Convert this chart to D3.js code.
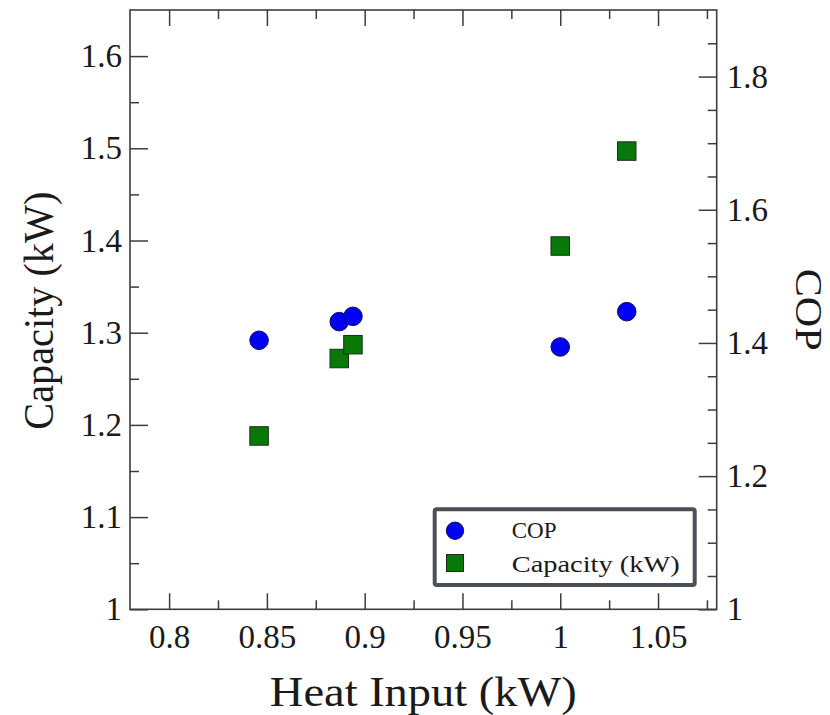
<!DOCTYPE html>
<html>
<head>
<meta charset="utf-8">
<script src="https://cdn.jsdelivr.net/npm/d3@7"></script>
<style>
  html, body { margin: 0; padding: 0; background: #fff; }
  svg { display: block; }
  text { font-family: "Liberation Serif", "Times New Roman", serif; fill: #1a1a1a; }
</style>
</head>
<body>
<svg id="chart" width="830" height="715"></svg>
<script>
// ---- data ----
const heatInput = [0.846, 0.887, 0.894, 1.000, 1.034];   // kW (x)
const capacity  = [1.188, 1.272, 1.287, 1.394, 1.497];   // kW (left axis)
const cop       = [1.404, 1.432, 1.440, 1.394, 1.447];   // COP (right axis)

const xTicks = [0.8, 0.85, 0.9, 0.95, 1, 1.05];
const xMinorTicks = [0.825, 0.875, 0.925, 0.975, 1.025, 1.075];
const capTicks = [1, 1.1, 1.2, 1.3, 1.4, 1.5, 1.6];
const capMinorTicks = [1.05, 1.15, 1.25, 1.35, 1.45, 1.55];
const copTicks = [1, 1.2, 1.4, 1.6, 1.8];
const copMinorTicks = [1.05, 1.1, 1.15, 1.25, 1.3, 1.35, 1.45, 1.5, 1.55, 1.65, 1.7, 1.75, 1.85];

const legendLabels = ["COP", "Capacity (kW)"];
const xTitle = "Heat Input (kW)";
const yLeftTitle = "Capacity (kW)";
const yRightTitle = "COP";

// ---- layout ----
const L = 130, R = 716.7, T = 10, B = 609.3;
const svg = d3.select("#chart");
const frameColor = "#3c3c3c";

const x = d3.scaleLinear().domain([0.78, 1.08]).range([L, R]);
const yCap = d3.scaleLinear().domain([1, 1.65]).range([B, T]);
const yCop = d3.scaleLinear().domain([1, 1.9]).range([B, T]);

const fmt = d => String(+d.toFixed(2));
const MAJ = 18, MIN = 9;

function styleAxis(g, fontSize) {
  g.select(".domain").remove();
  g.selectAll(".tick line").attr("stroke", frameColor).attr("stroke-width", 1.5);
  g.selectAll(".tick text").attr("font-family", "Liberation Serif, serif")
    .attr("font-size", fontSize).attr("fill", "#1a1a1a");
}

// bottom axis
svg.append("g").attr("transform", `translate(0,${B})`)
  .call(d3.axisBottom(x).tickValues(xTicks).tickFormat(fmt).tickSize(-16).tickPadding(15))
  .call(g => styleAxis(g, 33));
svg.append("g").attr("transform", `translate(0,${B})`)
  .call(d3.axisBottom(x).tickValues(xMinorTicks).tickFormat("").tickSize(-MIN))
  .call(g => styleAxis(g, 33));
// top axis (ticks only)
svg.append("g").attr("transform", `translate(0,${T})`)
  .call(d3.axisTop(x).tickValues(xTicks).tickFormat("").tickSize(-16))
  .call(g => styleAxis(g, 33));
svg.append("g").attr("transform", `translate(0,${T})`)
  .call(d3.axisTop(x).tickValues(xMinorTicks).tickFormat("").tickSize(-MIN))
  .call(g => styleAxis(g, 33));
// left axis
svg.append("g").attr("transform", `translate(${L},0)`)
  .call(d3.axisLeft(yCap).tickValues(capTicks).tickFormat(fmt).tickSize(-MAJ).tickPadding(8))
  .call(g => styleAxis(g, 33));
svg.append("g").attr("transform", `translate(${L},0)`)
  .call(d3.axisLeft(yCap).tickValues(capMinorTicks).tickFormat("").tickSize(-MIN))
  .call(g => styleAxis(g, 33));
// right axis
svg.append("g").attr("transform", `translate(${R},0)`)
  .call(d3.axisRight(yCop).tickValues(copTicks).tickFormat(fmt).tickSize(-MAJ).tickPadding(10))
  .call(g => styleAxis(g, 33));
svg.append("g").attr("transform", `translate(${R},0)`)
  .call(d3.axisRight(yCop).tickValues(copMinorTicks).tickFormat("").tickSize(-MIN))
  .call(g => styleAxis(g, 33));

// frame
svg.append("rect").attr("x", L).attr("y", T).attr("width", R - L).attr("height", B - T)
  .attr("fill", "none").attr("stroke", frameColor).attr("stroke-width", 1.6);

// axis titles
svg.append("text").attr("x", (L + R) / 2).attr("y", 706).attr("text-anchor", "middle")
  .attr("font-size", 42).attr("textLength", 307).attr("lengthAdjust", "spacingAndGlyphs")
  .text(xTitle);
svg.append("text").attr("transform", `translate(53,${(T + B) / 2 + 1}) rotate(-90)`)
  .attr("text-anchor", "middle").attr("font-size", 42)
  .attr("textLength", 238).attr("lengthAdjust", "spacingAndGlyphs")
  .text(yLeftTitle);
svg.append("text").attr("transform", `translate(796,${(T + B) / 2}) rotate(90)`)
  .attr("text-anchor", "middle").attr("font-size", 37)
  .attr("textLength", 82).attr("lengthAdjust", "spacingAndGlyphs")
  .text(yRightTitle);

// data marks
const pts = heatInput.map((h, i) => ({ h, cap: capacity[i], cop: cop[i] }));
const sq = 18.5;
svg.append("g").selectAll("rect").data(pts).join("rect")
  .attr("x", d => x(d.h) - sq / 2).attr("y", d => yCap(d.cap) - sq / 2)
  .attr("width", sq).attr("height", sq)
  .attr("fill", "#087808").attr("stroke", "#1d2d1d").attr("stroke-width", 1);
svg.append("g").selectAll("circle").data(pts).join("circle")
  .attr("cx", d => x(d.h)).attr("cy", d => yCop(d.cop)).attr("r", 9.3)
  .attr("fill", "#0000f2").attr("stroke", "#101060").attr("stroke-width", 1);

// legend
const lg = svg.append("g");
lg.append("rect").attr("x", 434.7).attr("y", 509.3).attr("width", 260).attr("height", 75.7)
  .attr("rx", 2).attr("fill", "#fff").attr("stroke", "#4b5057").attr("stroke-width", 4);
lg.append("circle").attr("cx", 455).attr("cy", 530.7).attr("r", 8.7)
  .attr("fill", "#0000f2").attr("stroke", "#101060").attr("stroke-width", 1);
lg.append("rect").attr("x", 455 - 8.5).attr("y", 563 - 8.5).attr("width", 17).attr("height", 17)
  .attr("fill", "#087808").attr("stroke", "#1d2d1d").attr("stroke-width", 1);
lg.append("text").attr("x", 511.7).attr("y", 537.5).attr("font-size", 23)
  .text(legendLabels[0]);
lg.append("text").attr("x", 511.7).attr("y", 571.5).attr("font-size", 23)
  .attr("textLength", 168).attr("lengthAdjust", "spacingAndGlyphs").text(legendLabels[1]);
</script>
</body>
</html>
